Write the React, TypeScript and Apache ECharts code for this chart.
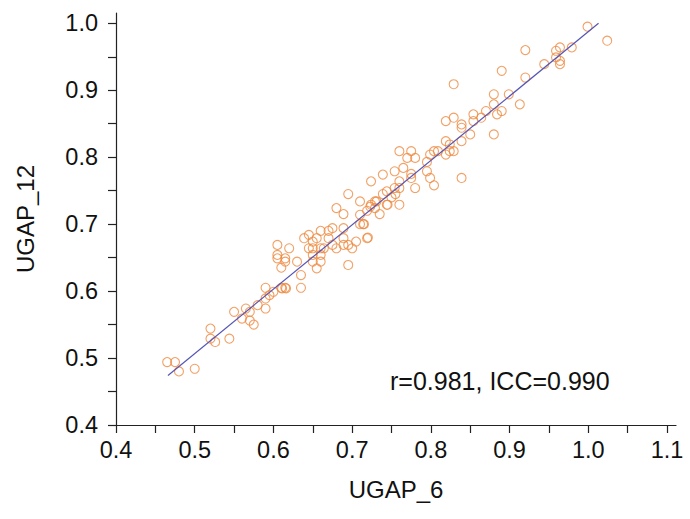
import React, { useEffect, useRef } from "react";
import * as echarts from "echarts";

// UGAP_6 (x) and UGAP_12 (y) values
const ugap6: number[] = [
  0.465, 0.475, 0.48, 0.5, 0.52, 0.52, 0.526, 0.544, 0.55, 0.56, 0.565, 0.57, 0.57, 0.575, 0.58,
  0.59, 0.59, 0.59, 0.595, 0.6, 0.605, 0.605, 0.605, 0.61, 0.61, 0.615, 0.615, 0.615, 0.62, 0.63,
  0.635, 0.635, 0.639, 0.645, 0.645, 0.65, 0.65, 0.65, 0.65, 0.655, 0.655, 0.66, 0.66, 0.66, 0.66,
  0.664, 0.67, 0.67, 0.675, 0.675, 0.68, 0.68, 0.689, 0.689, 0.689, 0.689, 0.695, 0.695, 0.695, 0.7,
  0.705, 0.71, 0.71, 0.71, 0.715, 0.719, 0.719, 0.724, 0.724, 0.729, 0.729, 0.735, 0.739, 0.739, 0.744,
  0.744, 0.75, 0.754, 0.754, 0.755, 0.76, 0.76, 0.76, 0.76, 0.765, 0.77, 0.775, 0.775, 0.775, 0.78,
  0.78, 0.795, 0.795, 0.799, 0.799, 0.804, 0.804, 0.809, 0.819, 0.819, 0.819, 0.824, 0.824, 0.829, 0.829,
  0.829, 0.839, 0.839, 0.839, 0.839, 0.85, 0.854, 0.854, 0.864, 0.87, 0.88, 0.88, 0.88, 0.884, 0.89,
  0.89, 0.899, 0.913, 0.92, 0.92, 0.944, 0.959, 0.959, 0.964, 0.964, 0.964, 0.979, 0.999, 1.024,
  0.723, 0.731, 0.745, 0.714, 0.72, 0.616, 0.611,
];
const ugap12: number[] = [
  0.494, 0.494, 0.48, 0.484, 0.544, 0.529, 0.524, 0.529, 0.569, 0.559, 0.574, 0.569, 0.556, 0.55, 0.579,
  0.605, 0.589, 0.574, 0.594, 0.599, 0.669, 0.654, 0.649, 0.635, 0.605, 0.649, 0.644, 0.605, 0.664, 0.644,
  0.624, 0.605, 0.679, 0.684, 0.664, 0.674, 0.664, 0.654, 0.644, 0.679, 0.634, 0.69, 0.664, 0.654, 0.644,
  0.664, 0.69, 0.679, 0.694, 0.669, 0.724, 0.664, 0.715, 0.694, 0.679, 0.669, 0.745, 0.669, 0.639, 0.664,
  0.674, 0.734, 0.714, 0.7, 0.7, 0.72, 0.679, 0.764, 0.729, 0.734, 0.724, 0.715, 0.774, 0.745, 0.749,
  0.729, 0.74, 0.779, 0.754, 0.745, 0.809, 0.764, 0.754, 0.729, 0.784, 0.799, 0.809, 0.769, 0.775, 0.799,
  0.754, 0.793, 0.779, 0.804, 0.769, 0.809, 0.758, 0.809, 0.854, 0.824, 0.804, 0.819, 0.809, 0.909, 0.859,
  0.809, 0.849, 0.844, 0.824, 0.769, 0.834, 0.864, 0.854, 0.859, 0.869, 0.894, 0.879, 0.834, 0.864, 0.929,
  0.869, 0.894, 0.879, 0.96, 0.919, 0.939, 0.959, 0.949, 0.964, 0.944, 0.939, 0.964, 0.995, 0.974,
  0.726, 0.734, 0.729, 0.7, 0.68, 0.604, 0.604,
];

// Fitted line end points (UGAP_6, UGAP_12)
const fitX: number[] = [0.466, 1.013];
const fitY: number[] = [0.474, 1.0];

const xTicks: number[] = [0.4, 0.45, 0.5, 0.55, 0.6, 0.65, 0.7, 0.75, 0.8, 0.85, 0.9, 0.95, 1.0, 1.05, 1.1];
const xLabels: number[] = [0.4, 0.5, 0.6, 0.7, 0.8, 0.9, 1.0, 1.1];
const yTicks: number[] = [0.4, 0.45, 0.5, 0.55, 0.6, 0.65, 0.7, 0.75, 0.8, 0.85, 0.9, 0.95, 1.0];
const yLabels: number[] = [0.4, 0.5, 0.6, 0.7, 0.8, 0.9, 1.0];

const annotation = "r=0.981, ICC=0.990";

const FONT = "'Liberation Sans', Arial, Helvetica, sans-serif";

export default function App() {
  const ref = useRef<HTMLDivElement>(null);
  useEffect(() => {
    if (!ref.current) return;
    const chart = echarts.init(ref.current, undefined, { renderer: "svg" });
    const axisCommon = {
      type: "value" as const,
      nameLocation: "middle" as const,
      nameTextStyle: { fontFamily: FONT, fontSize: 24, color: "#111" },
      axisLine: { show: true, onZero: false, lineStyle: { color: "#222", width: 1.2 } },
      splitLine: { show: false },
    };
    chart.setOption({
      animation: false,
      backgroundColor: "#ffffff",
      grid: { left: 116, right: 14, top: 13, bottom: 94 },
      xAxis: {
        ...axisCommon,
        min: 0.4,
        max: 1.1114,
        name: "UGAP_6",
        nameGap: 52,
        axisTick: { show: true, length: 8, lineStyle: { color: "#222", width: 1.2 }, customValues: xTicks },
        axisLabel: {
          customValues: xLabels,
          formatter: (v: number) => v.toFixed(1),
          fontFamily: FONT,
          fontSize: 23.5,
          color: "#111",
          margin: 13,
        },
      },
      yAxis: {
        ...axisCommon,
        min: 0.4,
        max: 1.0154,
        name: "UGAP_12",
        nameGap: 79,
        axisTick: { show: true, length: 8, lineStyle: { color: "#222", width: 1.2 }, customValues: yTicks },
        axisLabel: {
          customValues: yLabels,
          formatter: (v: number) => v.toFixed(1),
          fontFamily: FONT,
          fontSize: 23.5,
          color: "#111",
          margin: 18,
        },
      },
      series: [
        {
          type: "scatter",
          data: ugap6.map((x, i) => [x, ugap12[i]]),
          symbol: "circle",
          symbolSize: 9,
          itemStyle: { color: "transparent", borderColor: "#EE8A40", borderWidth: 1.1 },
          z: 2,
        },
        {
          type: "line",
          data: fitX.map((x, i) => [x, fitY[i]]),
          showSymbol: false,
          symbol: "none",
          lineStyle: { color: "#5555B5", width: 1.2 },
          z: 3,
        },
      ],
      graphic: [
        {
          type: "text",
          left: 390,
          top: 368,
          style: { text: annotation, fontFamily: FONT, fontSize: 25, fill: "#111" },
        },
      ],
    });
    return () => chart.dispose();
  }, []);
  return <div ref={ref} style={{ width: 690, height: 519, position: "absolute", left: 0, top: 0 }} />;
}
